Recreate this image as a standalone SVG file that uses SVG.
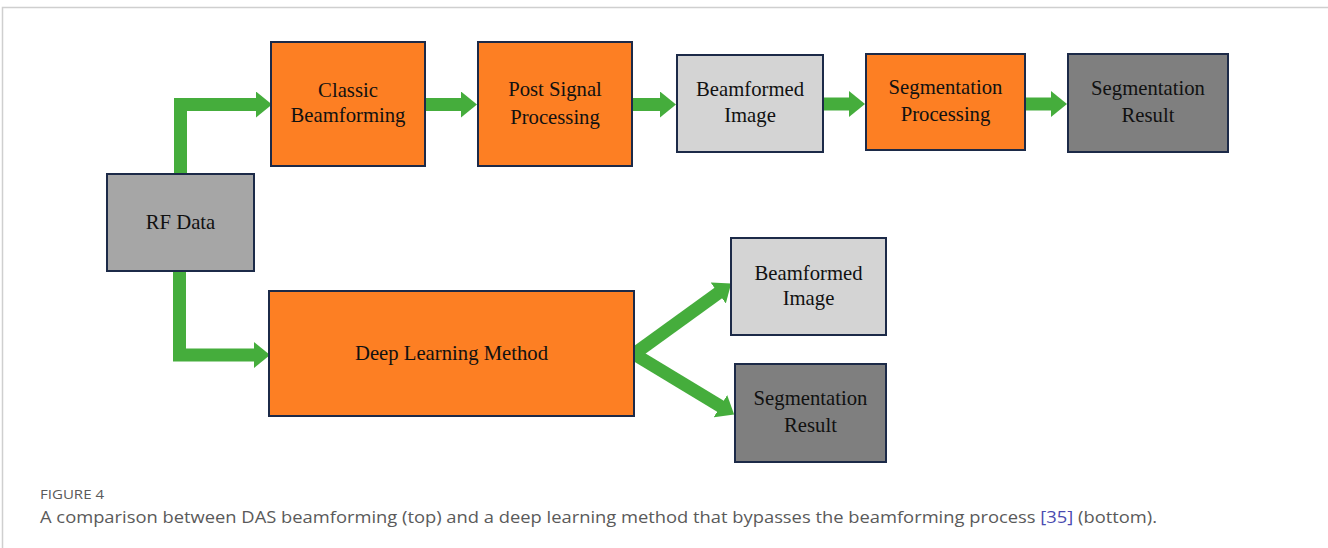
<svg xmlns="http://www.w3.org/2000/svg" width="1328" height="548" viewBox="0 0 1328 548">
<style>
.box{stroke:#1c2a48;stroke-width:2}
.orange{fill:#fd7f23}
.rf{fill:#a6a6a6}
.light{fill:#d4d4d4}
.dark{fill:#7f7f7f}
.lbl{font-family:"Liberation Serif","Times New Roman",serif;font-size:20.7px;fill:#111;text-anchor:middle}
.conn{fill:none;stroke:#45ad3c;stroke-width:13;stroke-linejoin:miter}
.cap{font-family:"Open Sans","Noto Sans",sans-serif;fill:#5a5a5a}
</style>
<defs>
<marker id="ah" viewBox="0 0 16 26" refX="1" refY="13" markerWidth="16" markerHeight="26" markerUnits="userSpaceOnUse" orient="auto">
<path d="M0,0 L16,13 L0,26 z" fill="#45ad3c"/>
</marker>
</defs>
<rect x="0" y="0" width="1328" height="548" fill="#fff"/>
<path d="M2.5,548 V7.5 H1328" fill="none" stroke="#cfcfcf" stroke-width="1.5"/>

<g id="connectors">
<path class="conn" d="M180.5,174 V104.5 H257" marker-end="url(#ah)"/>
<path class="conn" d="M425,104.5 H462" marker-end="url(#ah)"/>
<path class="conn" d="M632,104.5 H661" marker-end="url(#ah)"/>
<path class="conn" d="M823,104 H850" marker-end="url(#ah)"/>
<path class="conn" d="M1025,104 H1052" marker-end="url(#ah)"/>
<path class="conn" d="M179.5,271 V355 H255" marker-end="url(#ah)"/>
<path class="conn" d="M634,354 L719,292.4" marker-end="url(#ah)"/>
<path class="conn" d="M634,354 L721.3,406.7" marker-end="url(#ah)"/>
</g>

<g id="rf-data">
<rect class="box rf" x="107" y="174" width="147" height="97"/>
<text class="lbl" x="180.5" y="229">RF Data</text>
</g>
<g id="classic-beamforming">
<rect class="box orange" x="271" y="42" width="154" height="124"/>
<text class="lbl" x="348" y="97">Classic</text>
<text class="lbl" x="348" y="122">Beamforming</text>
</g>
<g id="post-signal-processing">
<rect class="box orange" x="478" y="42" width="154" height="124"/>
<text class="lbl" x="555" y="96">Post Signal</text>
<text class="lbl" x="555" y="124">Processing</text>
</g>
<g id="beamformed-image-top">
<rect class="box light" x="677" y="55" width="146" height="97"/>
<text class="lbl" x="750" y="96">Beamformed</text>
<text class="lbl" x="750" y="122">Image</text>
</g>
<g id="segmentation-processing">
<rect class="box orange" x="866" y="54" width="159" height="96"/>
<text class="lbl" x="945.5" y="94">Segmentation</text>
<text class="lbl" x="945.5" y="121">Processing</text>
</g>
<g id="segmentation-result-top">
<rect class="box dark" x="1068" y="54" width="160" height="98"/>
<text class="lbl" x="1148" y="95">Segmentation</text>
<text class="lbl" x="1148" y="122">Result</text>
</g>
<g id="deep-learning-method">
<rect class="box orange" x="269" y="291" width="365" height="125"/>
<text class="lbl" x="451.5" y="360">Deep Learning Method</text>
</g>
<g id="beamformed-image-bottom">
<rect class="box light" x="731" y="238" width="155" height="97"/>
<text class="lbl" x="808.5" y="280">Beamformed</text>
<text class="lbl" x="808.5" y="305">Image</text>
</g>
<g id="segmentation-result-bottom">
<rect class="box dark" x="735" y="364" width="151" height="98"/>
<text class="lbl" x="810.5" y="405">Segmentation</text>
<text class="lbl" x="810.5" y="432">Result</text>
</g>

<text class="cap" x="40" y="499" font-size="13" textLength="64" lengthAdjust="spacingAndGlyphs">FIGURE 4</text>
<text class="cap" x="40" y="523" font-size="17" textLength="1117" lengthAdjust="spacingAndGlyphs">A comparison between DAS beamforming (top) and a deep learning method that bypasses the beamforming process <tspan fill="#4a4ab0">[35]</tspan> (bottom).</text>
</svg>
